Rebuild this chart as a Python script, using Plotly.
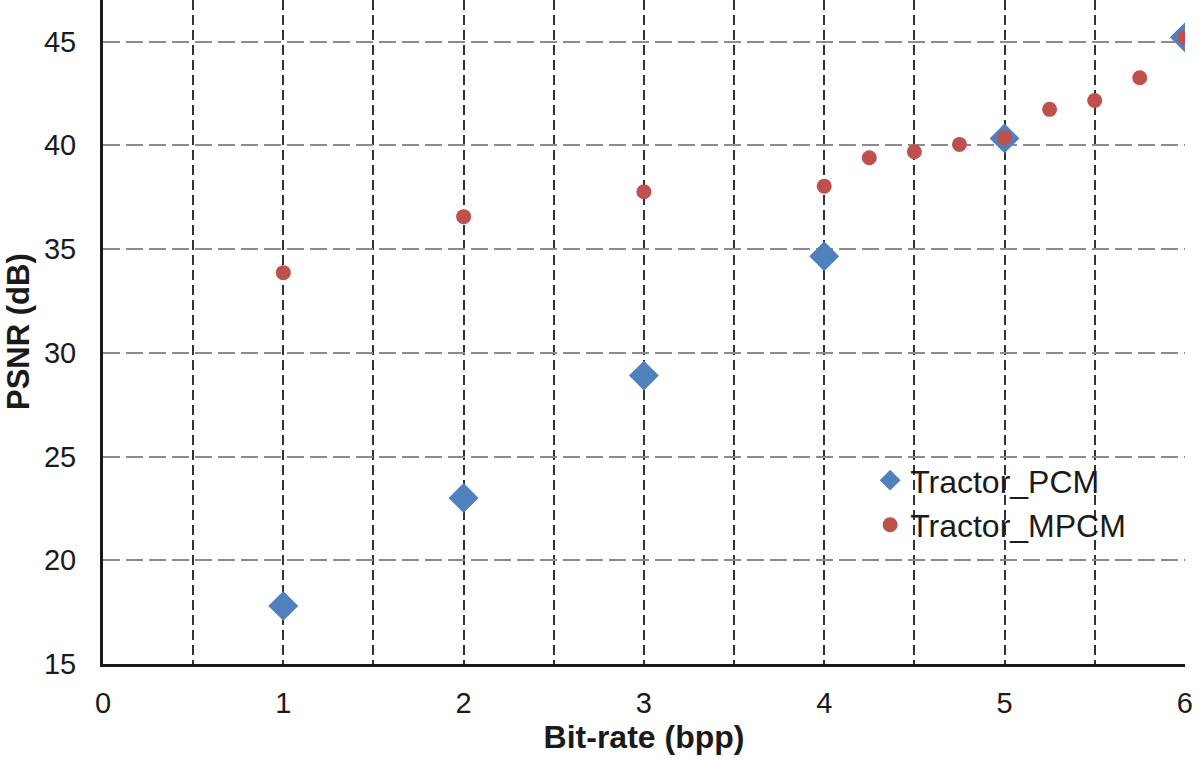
import plotly.graph_objects as go

# Data
pcm_x = [1, 2, 3, 4, 5, 6]
pcm_y = [17.8, 23.0, 28.9, 34.65, 40.33, 45.2]

mpcm_x = [1, 2, 3, 4, 4.25, 4.5, 4.75, 5, 5.25, 5.5, 5.75, 6]
mpcm_y = [33.86, 36.56, 37.76, 38.03, 39.40, 39.69, 40.04, 40.36, 41.73, 42.16, 43.25, 45.18]

x_ticks = [0, 1, 2, 3, 4, 5, 6]
y_ticks = [15, 20, 25, 30, 35, 40, 45]

FONT = "Liberation Sans, Arial, sans-serif"

fig = go.Figure()
fig.add_trace(go.Scatter(
    x=pcm_x, y=pcm_y, mode="markers", name="Tractor_PCM",
    marker=dict(symbol="diamond", size=23, color="#4F81BD", line=dict(width=0)),
))
fig.add_trace(go.Scatter(
    x=mpcm_x, y=mpcm_y, mode="markers", name="Tractor_MPCM",
    marker=dict(symbol="circle", size=15, color="#C0504D", line=dict(width=0)),
))

fig.update_layout(
    width=1200, height=762,
    margin=dict(l=103, r=15, t=0, b=98),
    plot_bgcolor="white", paper_bgcolor="white",
    font=dict(family=FONT, color="#1a1a1a"),
    showlegend=True,
    legend=dict(
        x=0.709, y=0.318, xanchor="left", yanchor="top",
        bgcolor="rgba(0,0,0,0)", font=dict(size=32, family=FONT, color="#1a1a1a"),
        itemsizing="trace",
    ),
    xaxis=dict(
        range=[0, 6.001], tickvals=x_ticks, ticktext=[str(v) for v in x_ticks],
        showline=True, linecolor="#1a1a1a", linewidth=3,
        showgrid=True, gridcolor="#333333", gridwidth=1.5, griddash="10px,5px",
        minor=dict(dtick=0.5, tick0=0, showgrid=True, gridcolor="#333333",
                   gridwidth=1.5, griddash="10px,5px"),
        zeroline=False, ticks="", automargin=False,
        tickfont=dict(size=29, family=FONT, color="#1a1a1a"),
        ticklabelstandoff=11,
        title=dict(text="<b>Bit-rate (bpp)</b>", font=dict(size=32, family=FONT, color="#1a1a1a"), standoff=0),
    ),
    yaxis=dict(
        range=[15, 47.0], tickvals=y_ticks, ticktext=[str(v) for v in y_ticks],
        showline=True, linecolor="#1a1a1a", linewidth=3,
        showgrid=True, gridcolor="#8c8c8c", gridwidth=2, griddash="17px,6px",
        zeroline=False, ticks="", automargin=False,
        tickfont=dict(size=29, family=FONT, color="#1a1a1a"),
        ticklabelstandoff=18,
    ),
    annotations=[dict(
        text="<b>PSNR (dB)</b>", textangle=-90, showarrow=False,
        xref="paper", yref="paper", x=0, y=0.5, xanchor="center", yanchor="middle",
        xshift=-85, font=dict(size=31, family=FONT, color="#1a1a1a"),
    )],
)

fig.write_html(
    "out.html",
    config={"displayModeBar": False},
    post_script="document.body.style.margin='0';document.body.style.padding='0';",
)
